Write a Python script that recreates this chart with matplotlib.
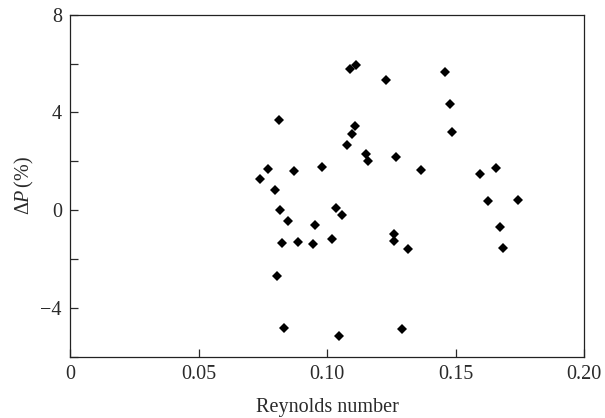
import numpy as np
import matplotlib
matplotlib.use("Agg")
import matplotlib.pyplot as plt
from matplotlib.ticker import MultipleLocator

plt.rcParams['font.family'] = ['Liberation Serif', 'DejaVu Serif']
plt.rcParams['mathtext.fontset'] = 'custom'
plt.rcParams['mathtext.rm'] = 'Liberation Serif'
plt.rcParams['mathtext.it'] = 'Liberation Serif:italic'

# Reynolds number vs pressure drop deviation
reynolds = [0.0739, 0.0768, 0.0797, 0.0813, 0.0816, 0.0823, 0.0803, 0.0832,
            0.0848, 0.0872, 0.0888, 0.0946, 0.0953, 0.0979, 0.1020, 0.1033,
            0.1057, 0.1047, 0.1078, 0.1097, 0.1110, 0.1089, 0.1112, 0.1151,
            0.1158, 0.1228, 0.1261, 0.1261, 0.1269, 0.1290, 0.1314, 0.1367,
            0.1459, 0.1478, 0.1485, 0.1595, 0.1626, 0.1657, 0.1673, 0.1685,
            0.1742]
dp = [1.29, 1.67, 0.84, 3.71, 0.01, -1.35, -2.69, -4.82,
      -0.44, 1.59, -1.29, -1.37, -0.59, 1.77, -1.17, 0.07,
      -0.21, -5.16, 2.66, 3.13, 3.44, 5.78, 5.94, 2.30,
      2.01, 5.34, -0.99, -1.27, 2.19, -4.86, -1.59, 1.63,
      5.65, 4.36, 3.21, 1.47, 0.39, 1.73, -0.71, -1.57,
      0.43]

xticks = [0, 0.05, 0.10, 0.15, 0.20]
xticklabels = ['0', '0.05', '0.10', '0.15', '0.20']
yticks = [-4, 0, 4, 8]
yticklabels = ['\u22124', '0', '4', '8']

fig = plt.figure(figsize=(6.05, 4.18), dpi=100)
ax = fig.add_axes([0.1162, 0.1467, 0.8491, 0.8181])

ax.plot(reynolds, dp, linestyle='none', marker='D', markersize=5.6,
        color='black', markeredgewidth=0)

ax.set_xlim(0, 0.20)
ax.set_ylim(-6, 8)
ax.set_xticks(xticks)
ax.set_xticklabels(xticklabels)
ax.set_yticks(yticks)
ax.set_yticklabels(yticklabels)
ax.yaxis.set_minor_locator(MultipleLocator(2))

ax.tick_params(which='both', direction='in', top=False, right=False,
               labelsize=14.5, colors='#2a2a2a', width=0.9)
ax.tick_params(which='major', length=6, pad=6)
ax.tick_params(which='minor', length=6)
for s in ax.spines.values():
    s.set_linewidth(0.9)
    s.set_color('#222222')

ax.set_xlabel('Reynolds number', fontsize=14.5, color='#2a2a2a', labelpad=10)
ax.set_ylabel(r'$\Delta\mathit{P}\,$(%)', fontsize=14.5, color='#2a2a2a', labelpad=3)

fig.savefig('out.png', dpi=100)
